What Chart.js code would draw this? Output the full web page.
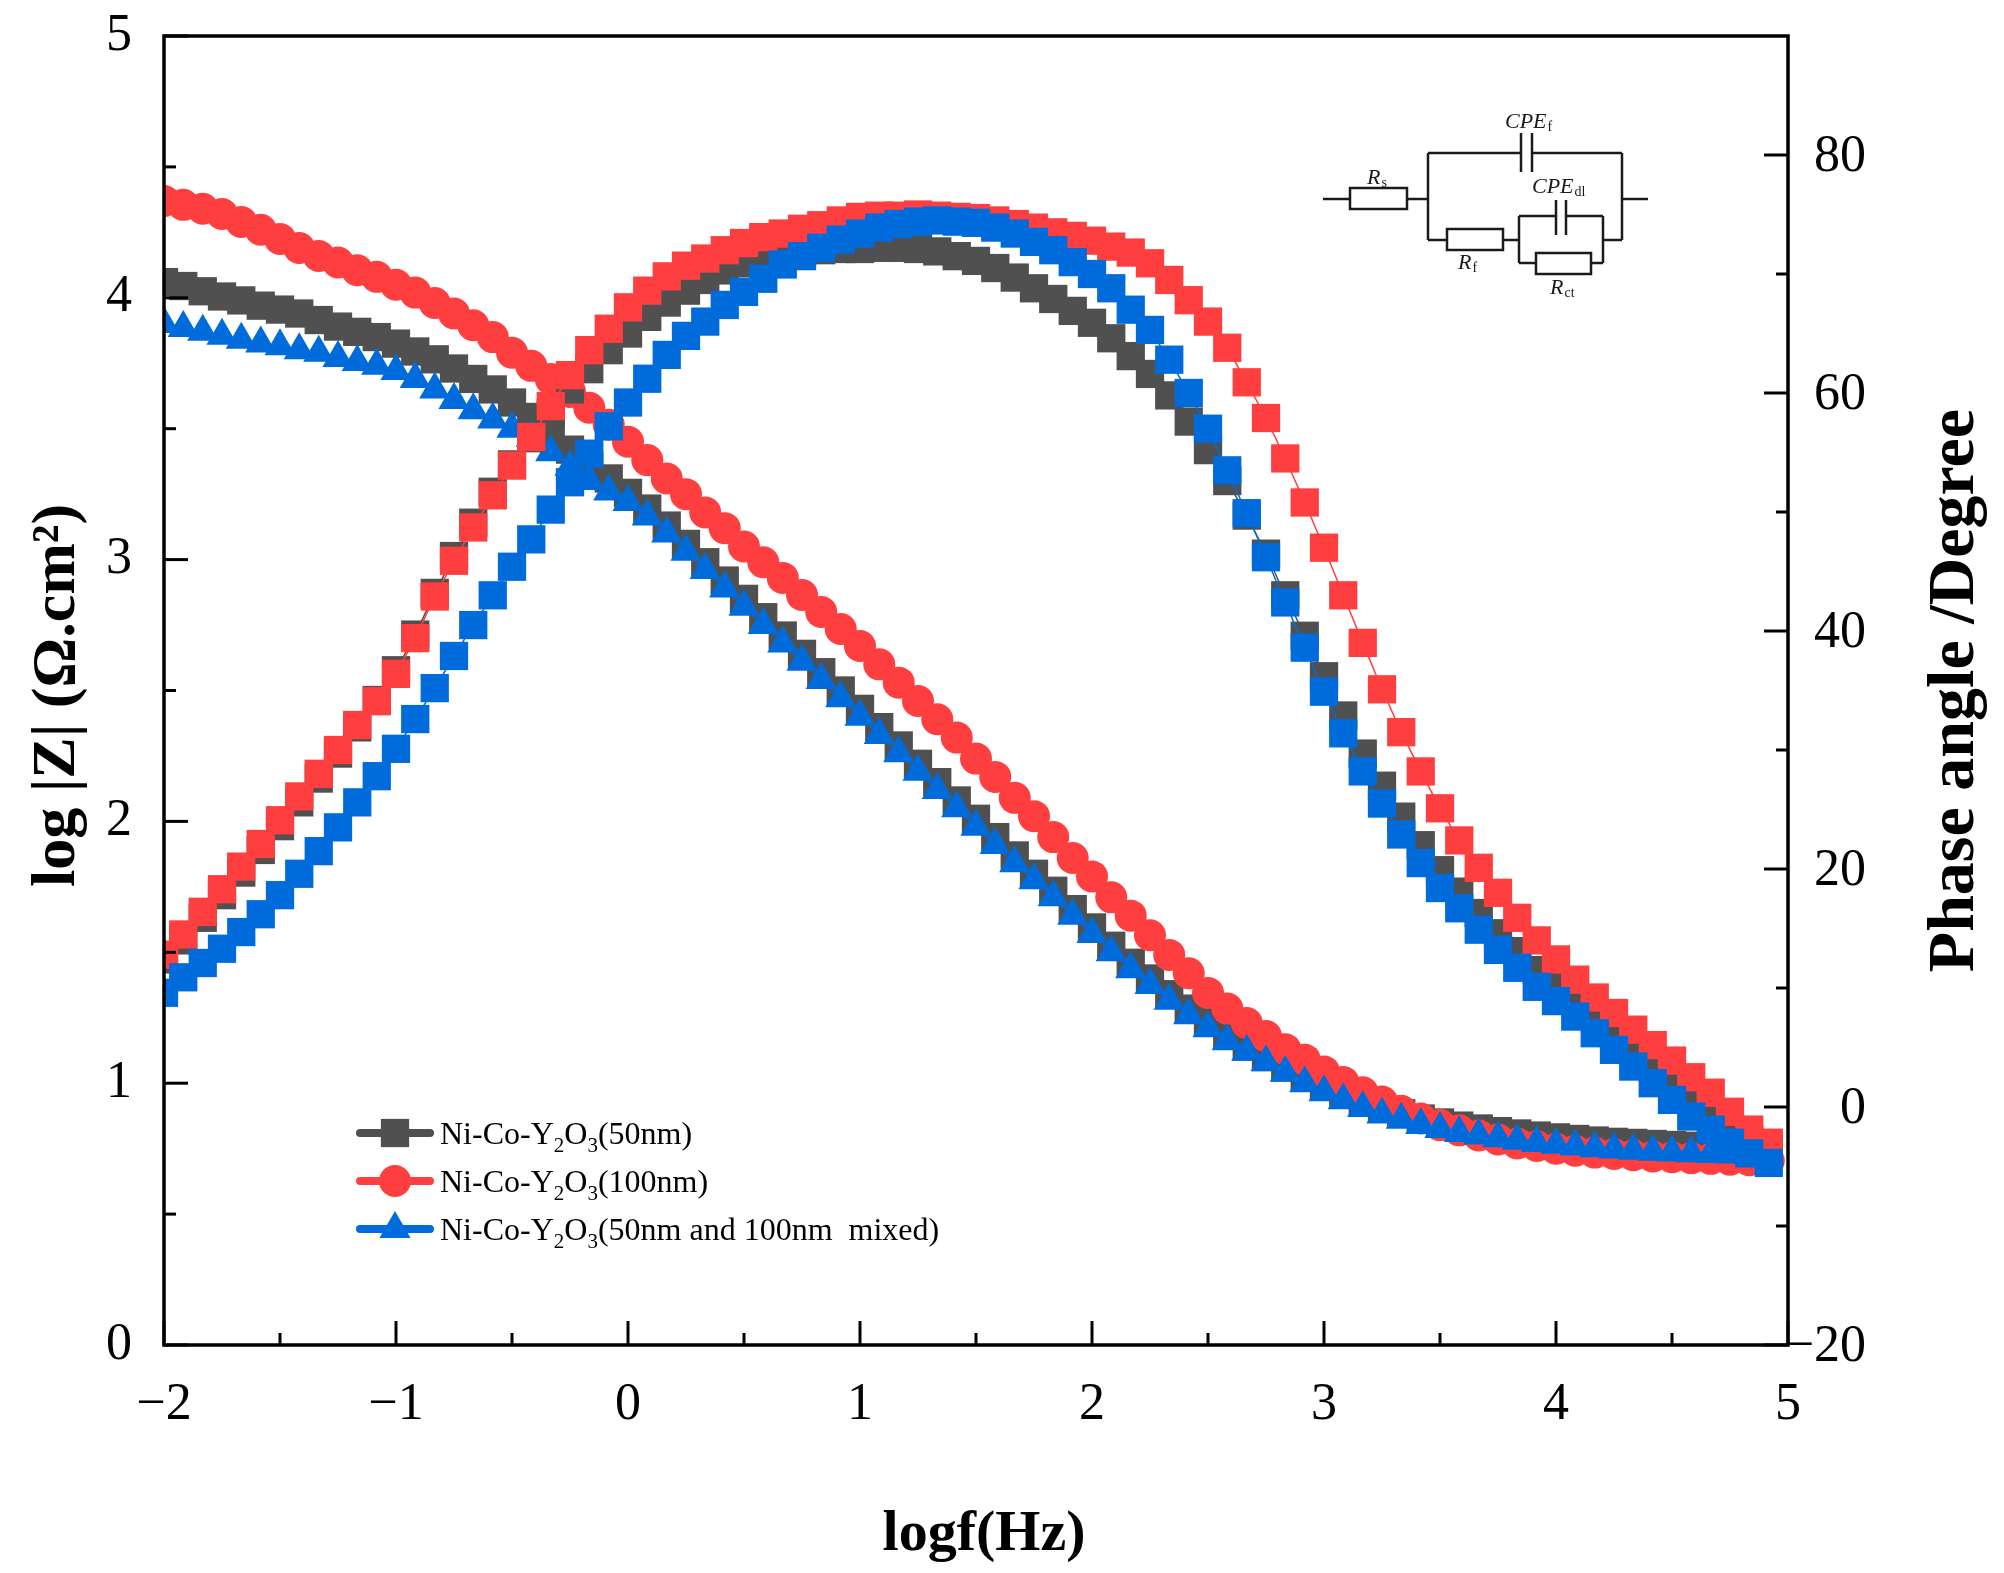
<!DOCTYPE html>
<html>
<head>
<meta charset="utf-8">
<title>Bode plot - Ni-Co-Y2O3 coatings</title>
<script src="https://cdn.jsdelivr.net/npm/chart.js@4.4.1/dist/chart.umd.min.js"></script>
<style>
  html, body { margin: 0; padding: 0; background: #fff; }
  canvas { display: block; }
</style>
</head>
<body>
<canvas id="bode" width="2004" height="1573"></canvas>
<script>
// log f (Hz), 12 points per decade
const logf = [
  -2, -1.917, -1.833, -1.75, -1.667, -1.583, -1.5, -1.417, -1.333, -1.25, -1.167, -1.083,
  -1, -0.917, -0.833, -0.75, -0.667, -0.583, -0.5, -0.417, -0.333, -0.25, -0.167, -0.083,
  0, 0.083, 0.167, 0.25, 0.333, 0.417, 0.5, 0.583, 0.667, 0.75, 0.833, 0.917,
  1, 1.083, 1.167, 1.25, 1.333, 1.417, 1.5, 1.583, 1.667, 1.75, 1.833, 1.917,
  2, 2.083, 2.167, 2.25, 2.333, 2.417, 2.5, 2.583, 2.667, 2.75, 2.833, 2.917,
  3, 3.083, 3.167, 3.25, 3.333, 3.417, 3.5, 3.583, 3.667, 3.75, 3.833, 3.917,
  4, 4.083, 4.167, 4.25, 4.333, 4.417, 4.5, 4.583, 4.667, 4.75, 4.833, 4.917
];

// log|Z| (left axis)
const modGray = [
  4.06, 4.045, 4.025, 4.005, 3.99, 3.97, 3.955, 3.94, 3.915, 3.89, 3.87, 3.85,
  3.825, 3.795, 3.765, 3.73, 3.69, 3.65, 3.60, 3.545, 3.48, 3.42, 3.36, 3.31,
  3.255, 3.195, 3.13, 3.06, 2.99, 2.92, 2.85, 2.78, 2.71, 2.64, 2.57, 2.50,
  2.43, 2.36, 2.29, 2.22, 2.15, 2.08, 2.01, 1.94, 1.87, 1.80, 1.735, 1.665,
  1.595, 1.525, 1.46, 1.40, 1.34, 1.285, 1.235, 1.185, 1.14, 1.10, 1.06, 1.025,
  0.99, 0.96, 0.93, 0.905, 0.885, 0.865, 0.85, 0.838, 0.827, 0.817, 0.808, 0.80,
  0.793, 0.787, 0.781, 0.776, 0.772, 0.768, 0.764, 0.761, 0.758, 0.755, 0.752, 0.75
];
const modRed = [
  4.37, 4.355, 4.34, 4.32, 4.29, 4.26, 4.225, 4.19, 4.16, 4.135, 4.105, 4.08,
  4.05, 4.02, 3.98, 3.94, 3.895, 3.85, 3.79, 3.74, 3.69, 3.64, 3.58, 3.515,
  3.45, 3.38, 3.31, 3.25, 3.18, 3.12, 3.05, 2.99, 2.93, 2.865, 2.80, 2.735,
  2.67, 2.60, 2.53, 2.46, 2.39, 2.32, 2.24, 2.17, 2.09, 2.02, 1.94, 1.86,
  1.79, 1.71, 1.64, 1.565, 1.49, 1.42, 1.345, 1.285, 1.23, 1.18, 1.13, 1.09,
  1.045, 1.005, 0.965, 0.93, 0.895, 0.865, 0.84, 0.82, 0.80, 0.785, 0.77, 0.76,
  0.75, 0.742, 0.735, 0.73, 0.725, 0.72, 0.717, 0.714, 0.711, 0.708, 0.706, 0.704
];
const modBlue = [
  3.90, 3.885, 3.87, 3.855, 3.84, 3.825, 3.815, 3.80, 3.79, 3.77, 3.755, 3.74,
  3.72, 3.69, 3.65, 3.61, 3.57, 3.535, 3.50, 3.465, 3.41, 3.355, 3.30, 3.26,
  3.22, 3.165, 3.10, 3.03, 2.96, 2.89, 2.82, 2.75, 2.68, 2.61, 2.54, 2.47,
  2.40, 2.33, 2.26, 2.19, 2.12, 2.05, 1.98, 1.91, 1.84, 1.775, 1.71, 1.64,
  1.57, 1.50, 1.435, 1.375, 1.315, 1.26, 1.21, 1.16, 1.12, 1.08, 1.04, 1.0,
  0.965, 0.935, 0.905, 0.88, 0.86, 0.84, 0.825, 0.81, 0.80, 0.79, 0.78, 0.772,
  0.765, 0.758, 0.752, 0.747, 0.742, 0.738, 0.735, 0.732, 0.73, 0.728, 0.726, 0.724
];

// phase angle in degrees (right axis)
const phaseGray = [
  12.4, 14.0, 15.9, 17.8, 19.7, 21.6, 23.6, 25.6, 27.6, 29.7, 31.9, 34.2,
  36.7, 39.7, 43.2, 46.3, 49.1, 51.7, 54.0, 56.2, 58.3, 60.3, 62.0, 63.6,
  65.0, 66.4, 67.6, 68.6, 69.5, 70.3, 70.9, 71.3, 71.6, 71.8, 72.0, 72.1,
  72.1, 72.2, 72.2, 72.1, 71.9, 71.5, 71.1, 70.5, 69.7, 68.8, 67.9, 66.9,
  65.9, 64.6, 63.1, 61.6, 59.8, 57.6, 55.2, 52.6, 49.7, 46.5, 43.0, 39.6,
  36.2, 32.9, 29.7, 27.0, 24.4, 22.0, 19.9, 18.1, 16.3, 14.6, 13.1, 11.5,
  10.2, 8.9, 7.5, 6.1, 4.7, 3.3, 1.9, 0.5, -0.6, -1.8, -2.8, -3.6
];
const phaseRed = [
  12.8, 14.5, 16.4, 18.3, 20.2, 22.1, 24.1, 26.1, 28.0, 30.0, 32.1, 34.1,
  36.4, 39.4, 42.9, 45.9, 48.7, 51.4, 53.9, 56.3, 58.9, 61.5, 63.6, 65.4,
  67.2, 68.6, 69.8, 70.7, 71.3, 72.0, 72.6, 73.1, 73.4, 73.8, 74.1, 74.5,
  74.8, 74.9, 74.9, 75.0, 74.9, 74.8, 74.7, 74.5, 74.2, 73.9, 73.5, 73.2,
  72.8, 72.3, 71.8, 70.9, 69.5, 67.8, 66.0, 63.8, 60.9, 57.9, 54.5, 50.8,
  47.0, 43.0, 39.0, 35.1, 31.5, 28.2, 25.1, 22.4, 20.1, 18.0, 15.9, 14.0,
  12.4, 10.7, 9.2, 7.9, 6.5, 5.2, 3.9, 2.5, 1.2, -0.4, -1.9, -3.0
];
const phaseBlue = [
  9.6, 10.9, 12.1, 13.3, 14.7, 16.2, 17.8, 19.6, 21.5, 23.5, 25.6, 27.8,
  30.1, 32.6, 35.2, 37.9, 40.5, 43.0, 45.4, 47.7, 50.2, 52.5, 54.9, 57.2,
  59.2, 61.2, 63.2, 64.8, 66.0, 67.4, 68.5, 69.6, 70.8, 71.5, 72.2, 72.9,
  73.4, 73.9, 74.2, 74.4, 74.5, 74.4, 74.3, 73.9, 73.4, 72.7, 72.0, 71.0,
  70.0, 68.8, 67.0, 65.3, 62.8, 60.0, 57.0, 53.5, 49.9, 46.2, 42.4, 38.6,
  34.9, 31.4, 28.2, 25.5, 22.9, 20.5, 18.4, 16.7, 14.9, 13.2, 11.7, 10.1,
  8.9, 7.6, 6.2, 4.8, 3.4, 2.0, 0.6, -0.8, -1.9, -3.0, -3.9, -4.7
];

const freqTicks = [-2, -1, 0, 1, 2, 3, 4, 5];
const modTicks = [0, 1, 2, 3, 4, 5];
const phaseTicks = [-20, 0, 20, 40, 60, 80];

// legend text after "Ni-Co-Y2O3"
const sampleNames = ['(50nm)', '(100nm)', '(50nm and 100nm  mixed)'];

const GRAY = '#505050';
const RED = '#ff3f3f';
const BLUE = '#006cdb';
const SERIF = '"Liberation Serif", "Times New Roman", serif';

Chart.defaults.font.family = SERIF;
Chart.defaults.color = '#000';

function series(data, color, style, radius, axis, order) {
  return {
    data: data,
    yAxisID: axis,
    order: order,
    borderColor: color,
    backgroundColor: color,
    borderWidth: 1.5,
    pointStyle: style,
    pointRadius: radius,
    pointBackgroundColor: color,
    pointBorderWidth: 0,
    tension: 0,
    fill: false
  };
}

const minus = v => String(v).replace('-', '\u2212');

function minorTicks(major) {
  const out = [];
  for (let i = 0; i < major.length - 1; i++) out.push((major[i] + major[i + 1]) / 2);
  return out;
}

// fixed box sizes so the plot area lands where the original has it
function fixBox(size, horizontal) {
  return s => {
    if (horizontal) { s.height = size; s.paddingLeft = 0; s.paddingRight = 0; }
    else { s.width = size; s.paddingTop = 0; s.paddingBottom = 0; }
  };
}

function subText(ctx, runs, x, y, size) {
  // runs: [text, isSubscript]
  let cx = x;
  runs.forEach(([t, sub]) => {
    ctx.font = (sub ? Math.round(size * 0.65) : size) + 'px ' + SERIF;
    ctx.fillText(t, cx, sub ? y + size * 0.25 : y);
    cx += ctx.measureText(t).width;
  });
}

// axes frame, inward ticks, right tick labels, titles, legend and circuit inset
const decorations = {
  id: 'decorations',
  afterDatasetsDraw(chart) {
    const {ctx, chartArea: a, scales} = chart;
    ctx.save();
    ctx.strokeStyle = '#000';
    ctx.fillStyle = '#000';
    ctx.lineCap = 'butt';

    ctx.lineWidth = 3;
    const seg = (x1, y1, x2, y2) => { ctx.beginPath(); ctx.moveTo(x1, y1); ctx.lineTo(x2, y2); ctx.stroke(); };
    freqTicks.forEach(v => { const p = scales.x.getPixelForValue(v); seg(p, a.bottom, p, a.bottom - 24); });
    minorTicks(freqTicks).forEach(v => { const p = scales.x.getPixelForValue(v); seg(p, a.bottom, p, a.bottom - 12); });
    modTicks.forEach(v => { const p = scales.y.getPixelForValue(v); seg(a.left, p, a.left + 24, p); });
    minorTicks(modTicks).forEach(v => { const p = scales.y.getPixelForValue(v); seg(a.left, p, a.left + 12, p); });
    phaseTicks.forEach(v => { const p = scales.y1.getPixelForValue(v); seg(a.right, p, a.right - 24, p); });
    minorTicks(phaseTicks).forEach(v => { const p = scales.y1.getPixelForValue(v); seg(a.right, p, a.right - 12, p); });

    ctx.lineWidth = 3.5;
    ctx.strokeRect(a.left, a.top, a.right - a.left, a.bottom - a.top);

    // right axis labels, right-aligned
    ctx.font = '52px ' + SERIF;
    ctx.textAlign = 'right';
    ctx.textBaseline = 'middle';
    phaseTicks.forEach(v => {
      ctx.fillText(minus(v), a.right + 78, scales.y1.getPixelForValue(v) + 2);
    });

    // axis titles
    ctx.textAlign = 'center';
    ctx.font = 'bold 62px ' + SERIF;
    ctx.save();
    ctx.translate(a.left - 106, (a.top + a.bottom) / 2 + 5);
    ctx.rotate(-Math.PI / 2);
    ctx.fillText('log |Z| (\u03A9.cm\u00B2)', 0, 0);
    ctx.restore();

    ctx.font = 'bold 66px ' + SERIF;
    ctx.save();
    ctx.translate(a.right + 168, (a.top + a.bottom) / 2);
    ctx.rotate(-Math.PI / 2);
    ctx.fillText('Phase angle /Degree', 0, 0);
    ctx.restore();

    ctx.font = 'bold 58px ' + SERIF;
    ctx.fillText('logf(Hz)', (a.left + a.right) / 2 + 8, a.bottom + 190);

    // legend inside the plot
    const legend = [
      [GRAY, 'rect', 20],
      [RED, 'circle', 16],
      [BLUE, 'triangle', 18]
    ];
    ctx.textAlign = 'left';
    ctx.textBaseline = 'alphabetic';
    legend.forEach(([color, style, r], i) => {
      const y = a.bottom - 212 + i * 48;
      ctx.strokeStyle = color;
      ctx.fillStyle = color;
      ctx.lineWidth = 8;
      ctx.lineCap = 'round';
      seg(a.left + 196, y, a.left + 266, y);
      ctx.lineCap = 'butt';
      Chart.helpers.drawPoint(ctx, {pointStyle: style, radius: r, rotation: 0, borderWidth: 0}, a.left + 231, y);
      ctx.fillStyle = '#000';
      subText(ctx, [['Ni-Co-Y', false], ['2', true], ['O', false], ['3', true], [sampleNames[i], false]],
        a.left + 276, y + 11, 32);
    });

    // equivalent circuit inset
    const ox = a.right - 465, oy = a.top + 97;
    ctx.strokeStyle = '#1a1a1a';
    ctx.lineWidth = 2.5;
    const w = (x1, y1, x2, y2) => seg(ox + x1, oy + y1, ox + x2, oy + y2);
    const box = (x, y, bw, bh) => ctx.strokeRect(ox + x, oy + y, bw, bh);
    w(0, 66, 27, 66); box(27, 55, 57, 21); w(84, 66, 105, 66);
    w(105, 20, 105, 107);
    w(105, 20, 198, 20); w(198, 0, 198, 39); w(209, 0, 209, 39); w(209, 20, 299, 20);
    w(299, 20, 299, 107); w(299, 66, 325, 66);
    w(105, 107, 124, 107); box(124, 96, 56, 21); w(180, 107, 196, 107);
    w(196, 83, 196, 130);
    w(196, 83, 233, 83); w(233, 67, 233, 102); w(243, 67, 243, 102); w(243, 83, 280, 83);
    w(196, 130, 213, 130); box(213, 120, 55, 21); w(268, 130, 280, 130);
    w(280, 83, 280, 130); w(280, 107, 299, 107);

    ctx.fillStyle = '#1a1a1a';
    const label = (main, sub, x, y) => {
      ctx.font = 'italic 22px ' + SERIF;
      ctx.fillText(main, ox + x, oy + y);
      const mw = ctx.measureText(main).width;
      ctx.font = '14px ' + SERIF;
      ctx.fillText(sub, ox + x + mw + 1, oy + y + 3);
    };
    label('CPE', 'f', 182, -5);
    label('R', 's', 44, 51);
    label('CPE', 'dl', 209, 60);
    label('R', 'f', 135, 136);
    label('R', 'ct', 227, 161);

    ctx.restore();
  }
};

new Chart(document.getElementById('bode'), {
  type: 'line',
  data: {
    labels: logf,
    datasets: [
      series(modGray, GRAY, 'rect', 20, 'y', 6),
      series(modRed, RED, 'circle', 16, 'y', 5),
      series(modBlue, BLUE, 'triangle', 18, 'y', 4),
      series(phaseGray, GRAY, 'rect', 20, 'y1', 3),
      series(phaseRed, RED, 'rect', 20, 'y1', 2),
      series(phaseBlue, BLUE, 'rect', 20, 'y1', 1)
    ]
  },
  options: {
    responsive: false,
    devicePixelRatio: 1,
    animation: false,
    events: [],
    layout: { autoPadding: false, padding: { top: 36, left: 0, right: 0, bottom: 0 } },
    plugins: { legend: { display: false }, tooltip: { enabled: false } },
    scales: {
      x: {
        type: 'linear',
        position: 'bottom',
        min: -2,
        max: 5,
        grid: { display: false, drawTicks: false },
        border: { display: false },
        ticks: { font: { size: 52 }, padding: 29, callback: minus },
        afterBuildTicks: s => { s.ticks = freqTicks.map(v => ({ value: v })); },
        afterFit: fixBox(228, true)
      },
      y: {
        type: 'linear',
        position: 'left',
        min: 0,
        max: 5,
        grid: { display: false, drawTicks: false },
        border: { display: false },
        ticks: { font: { size: 52 }, padding: 32, callback: minus },
        afterBuildTicks: s => { s.ticks = modTicks.map(v => ({ value: v })); },
        afterFit: fixBox(164, false)
      },
      y1: {
        type: 'linear',
        position: 'right',
        min: -20,
        max: 90,
        grid: { display: false, drawTicks: false },
        border: { display: false },
        ticks: { display: false },
        afterBuildTicks: s => { s.ticks = phaseTicks.map(v => ({ value: v })); },
        afterFit: fixBox(216, false)
      }
    }
  },
  plugins: [decorations]
});
</script>
</body>
</html>
